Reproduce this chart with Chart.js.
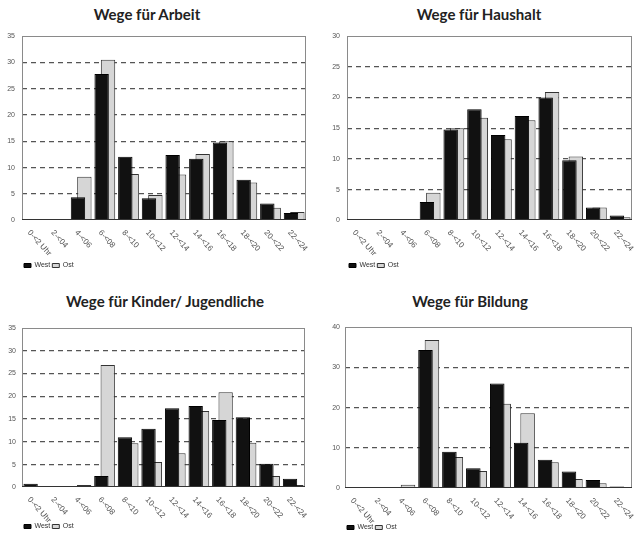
<!DOCTYPE html>
<html><head><meta charset="utf-8">
<script src="https://cdn.jsdelivr.net/npm/chart.js@4"></script>
<style>
html,body{margin:0;padding:0;background:#fff;width:640px;height:534px;overflow:hidden;position:relative;font-family:Lato, "Open Sans", sans-serif}
.t{position:absolute;font-weight:bold;font-size:15px;line-height:18px;color:#222;white-space:nowrap;transform:translateX(-50%)}
canvas{position:absolute}
</style></head><body>
<div class="t" style="left:147px;top:5px">Wege für Arbeit</div>
<div class="t" style="left:479px;top:5px">Wege für Haushalt</div>
<div class="t" style="left:165px;top:292px">Wege für Kinder/ Jugendliche</div>
<div class="t" style="left:470px;top:292px">Wege für Bildung</div>
<canvas id="c1" width="320" height="279" style="left:0;top:0"></canvas>
<canvas id="c2" width="320" height="279" style="left:320px;top:0"></canvas>
<canvas id="c3" width="320" height="260" style="left:0;top:280px"></canvas>
<canvas id="c4" width="320" height="261" style="left:320px;top:280px"></canvas>
<script>
const hourLabels = ["0-<2 Uhr","2-<04","4-<06","6-<08","8-<10","10-<12","12-<14","14-<16","16-<18","18-<20","20-<22","22-<24"];
const seriesNames = ["West","Ost"];

const arbeitWest   = [0.2, 0.2, 4.4, 27.8, 12.1, 4.2, 12.4, 11.7, 14.8, 7.7, 3.2, 1.4];
const arbeitOst    = [0.2, 0.2, 8.3, 30.5, 8.8, 4.8, 8.7, 12.6, 15.0, 7.2, 2.4, 1.6];
const haushaltWest = [0.1, 0.05, 0.2, 3.0, 14.8, 18.1, 13.9, 17.0, 20.0, 9.8, 2.1, 0.8];
const haushaltOst  = [0.1, 0.05, 0.2, 4.5, 15.0, 16.7, 13.2, 16.3, 20.9, 10.4, 2.1, 0.5];
const kinderWest   = [0.8, 0.1, 0.3, 2.5, 11.0, 12.9, 17.4, 17.9, 14.8, 15.4, 5.2, 1.9];
const kinderOst    = [0.0, 0.1, 0.5, 26.9, 9.7, 5.6, 7.5, 16.8, 20.9, 9.8, 2.5, 0.5];
const bildungWest  = [0.0, 0.0, 0.3, 34.3, 9.1, 5.0, 26.0, 11.3, 7.1, 4.2, 2.1, 0.5];
const bildungOst   = [0.0, 0.0, 0.9, 36.8, 7.8, 4.3, 21.0, 18.6, 6.5, 2.3, 1.3, 0.3];

const yMaxArbeit = 35, yStepArbeit = 5;
const yMaxHaushalt = 30, yStepHaushalt = 5;
const yMaxKinder = 35, yStepKinder = 5;
const yMaxBildung = 40, yStepBildung = 10;

const framePlugin = {
  id: 'frame',
  afterDatasetsDraw(chart) {
    const a = chart.chartArea, ctx = chart.ctx;
    ctx.save();
    ctx.strokeStyle = '#8a8a8a';
    ctx.lineWidth = 1;
    ctx.strokeRect(Math.round(a.left) + 0.5, Math.round(a.top) + 0.5, Math.round(a.right - a.left) - 1, Math.round(a.bottom - a.top) - 1);
    ctx.beginPath();
    ctx.strokeStyle = '#333';
    ctx.moveTo(a.left, Math.round(a.bottom) - 0.5);
    ctx.lineTo(a.right, Math.round(a.bottom) - 0.5);
    ctx.stroke();
    ctx.restore();
  }
};

const xLabelPlugin = {
  id: 'xlabels',
  afterDraw(chart) {
    const ctx = chart.ctx, sx = chart.scales.x, bottom = chart.chartArea.bottom;
    ctx.save();
    ctx.font = '8px "Liberation Sans", Arial, sans-serif';
    ctx.fillStyle = '#555';
    ctx.textAlign = 'left';
    ctx.textBaseline = 'middle';
    chart.data.labels.forEach((lab, i) => {
      const x = sx.getPixelForValue(i);
      ctx.save();
      ctx.translate(x - 5, bottom + 11);
      ctx.rotate(48 * Math.PI / 180);
      ctx.fillText(lab, 0, 0);
      ctx.restore();
    });
    ctx.restore();
  }
};

function makeChart(id, west, ost, yMax, yStep, geo) {
  return new Chart(document.getElementById(id), {
    type: 'bar',
    data: {
      labels: hourLabels,
      datasets: [
        { label: seriesNames[0], data: west, backgroundColor: '#111', borderColor: '#000', borderWidth: 1 },
        { label: seriesNames[1], data: ost, backgroundColor: '#d6d6d6', borderColor: '#333', borderWidth: 1 }
      ]
    },
    options: {
      responsive: false,
      animation: false,
      events: [],
      datasets: { bar: { categoryPercentage: 0.54, barPercentage: 2.25 } },
      layout: { padding: { left: 0, right: geo.right, top: geo.top, bottom: 0 } },
      plugins: {
        tooltip: { enabled: false },
        title: { display: false },
        legend: {
          display: true, position: 'bottom', align: 'start', fullSize: false,
          labels: {
            boxWidth: 7, boxHeight: 4, padding: 2, color: '#333',
            font: { size: 7, family: '"Liberation Sans", Arial, sans-serif' }
          }
        }
      },
      scales: {
        x: {
          grid: { display: false },
          border: { display: false },
          ticks: { display: false },
          afterFit(s) { s.height = geo.xh; }
        },
        y: {
          min: 0, max: yMax,
          ticks: { stepSize: yStep, padding: geo.tp, color: '#555', font: { size: 7, family: '"Liberation Sans", Arial, sans-serif' } },
          grid: {
            drawTicks: false,
            lineWidth: 1.3,
            color: (c) => (c.tick && (c.tick.value === 0 || c.tick.value === yMax)) ? 'rgba(0,0,0,0)' : '#555'
          },
          border: { display: false, dash: [5, 4] },
          afterFit(s) { s.width = geo.left; }
        }
      }
    },
    plugins: [framePlugin, xLabelPlugin]
  });
}

makeChart('c1', arbeitWest, arbeitOst, yMaxArbeit, yStepArbeit, { left: 22, right: 14, top: 36, xh: 39.6, tp: 7 });
makeChart('c2', haushaltWest, haushaltOst, yMaxHaushalt, yStepHaushalt, { left: 27, right: 8, top: 36, xh: 39.6, tp: 7 });
makeChart('c3', kinderWest, kinderOst, yMaxKinder, yStepKinder, { left: 22, right: 15, top: 48, xh: 33.6, tp: 6 });
makeChart('c4', bildungWest, bildungOst, yMaxBildung, yStepBildung, { left: 25, right: 8, top: 47, xh: 33.6, tp: 5 });
</script>
</body></html>
